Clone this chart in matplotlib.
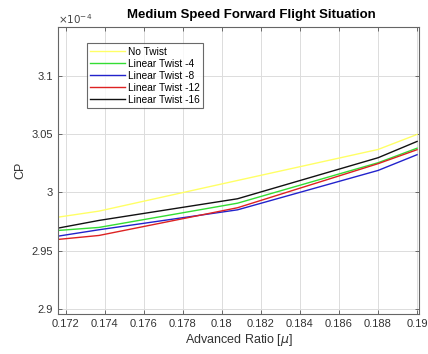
import matplotlib
matplotlib.use("Agg")
import matplotlib.pyplot as plt

plt.rcParams['font.family'] = ['Liberation Sans', 'DejaVu Sans']

mu = [0.1716, 0.1737, 0.1808, 0.1880, 0.1900]
no_twist = [2.9788, 2.9840, 3.0103, 3.0369, 3.0498]
twist_4 = [2.9674, 2.9700, 2.9908, 3.0255, 3.0380]
twist_8 = [2.9625, 2.9680, 2.9851, 3.0189, 3.0324]
twist_12 = [2.9597, 2.9631, 2.9869, 3.0247, 3.0367]
twist_16 = [2.9694, 2.9760, 2.9946, 3.0298, 3.0438]

series = [
    ("No Twist", no_twist, "#ffff66"),
    ("Linear Twist -4", twist_4, "#33dd33"),
    ("Linear Twist -8", twist_8, "#2222cc"),
    ("Linear Twist -12", twist_12, "#dd2222"),
    ("Linear Twist -16", twist_16, "#111111"),
]

xticks = [0.172, 0.174, 0.176, 0.178, 0.18, 0.182, 0.184, 0.186, 0.188, 0.19]
xticklabels = ["0.172", "0.174", "0.176", "0.178", "0.18", "0.182", "0.184", "0.186", "0.188", "0.19"]
yticks = [2.9, 2.95, 3.0, 3.05, 3.1]
yticklabels = ["2.9", "2.95", "3", "3.05", "3.1"]

fig = plt.figure(figsize=(4.28, 3.54), dpi=100)
ax = fig.add_axes([0.1355, 0.113, 0.8435, 0.8107])

for label, vals, col in series:
    ax.plot(mu, vals, color=col, lw=1.0, label=label)

ax.set_xlim(0.1716, 0.1901)
ax.set_ylim(2.8957, 3.142)
ax.set_xticks(xticks)
ax.set_xticklabels(xticklabels)
ax.set_yticks(yticks)
ax.set_yticklabels(yticklabels)
ax.grid(True, color="#dcdcdc", lw=0.7)
ax.set_axisbelow(True)
ax.tick_params(direction="in", top=True, right=True, labelsize=8, length=3,
               color="#555555", labelcolor="#333333", width=0.6)
for s in ax.spines.values():
    s.set_color("#666666")
    s.set_linewidth(0.8)

ax.set_xlabel(r"Advanced Ratio [$\mu$]", fontsize=9, color="#333333", labelpad=2)
ax.set_ylabel("CP", fontsize=9, color="#333333", labelpad=4)
ax.text(0.537, 1.02, "Medium Speed Forward Flight Situation", transform=ax.transAxes,
        ha="center", va="bottom", fontsize=9.5, fontweight="bold")
ax.text(0.0, 1.005, r"$\times10^{-4}$", transform=ax.transAxes, ha="left", va="bottom",
        fontsize=7.5, color="#444444")

leg = ax.legend(loc="upper left", bbox_to_anchor=(0.08, 0.944), fontsize=7.3,
                frameon=True, fancybox=False, borderpad=0.35, labelspacing=0.2,
                handlelength=3.4, handletextpad=0.3, borderaxespad=0)
leg.get_frame().set_edgecolor("#444444")
leg.get_frame().set_linewidth(0.8)

fig.savefig("out.png", dpi=100)
